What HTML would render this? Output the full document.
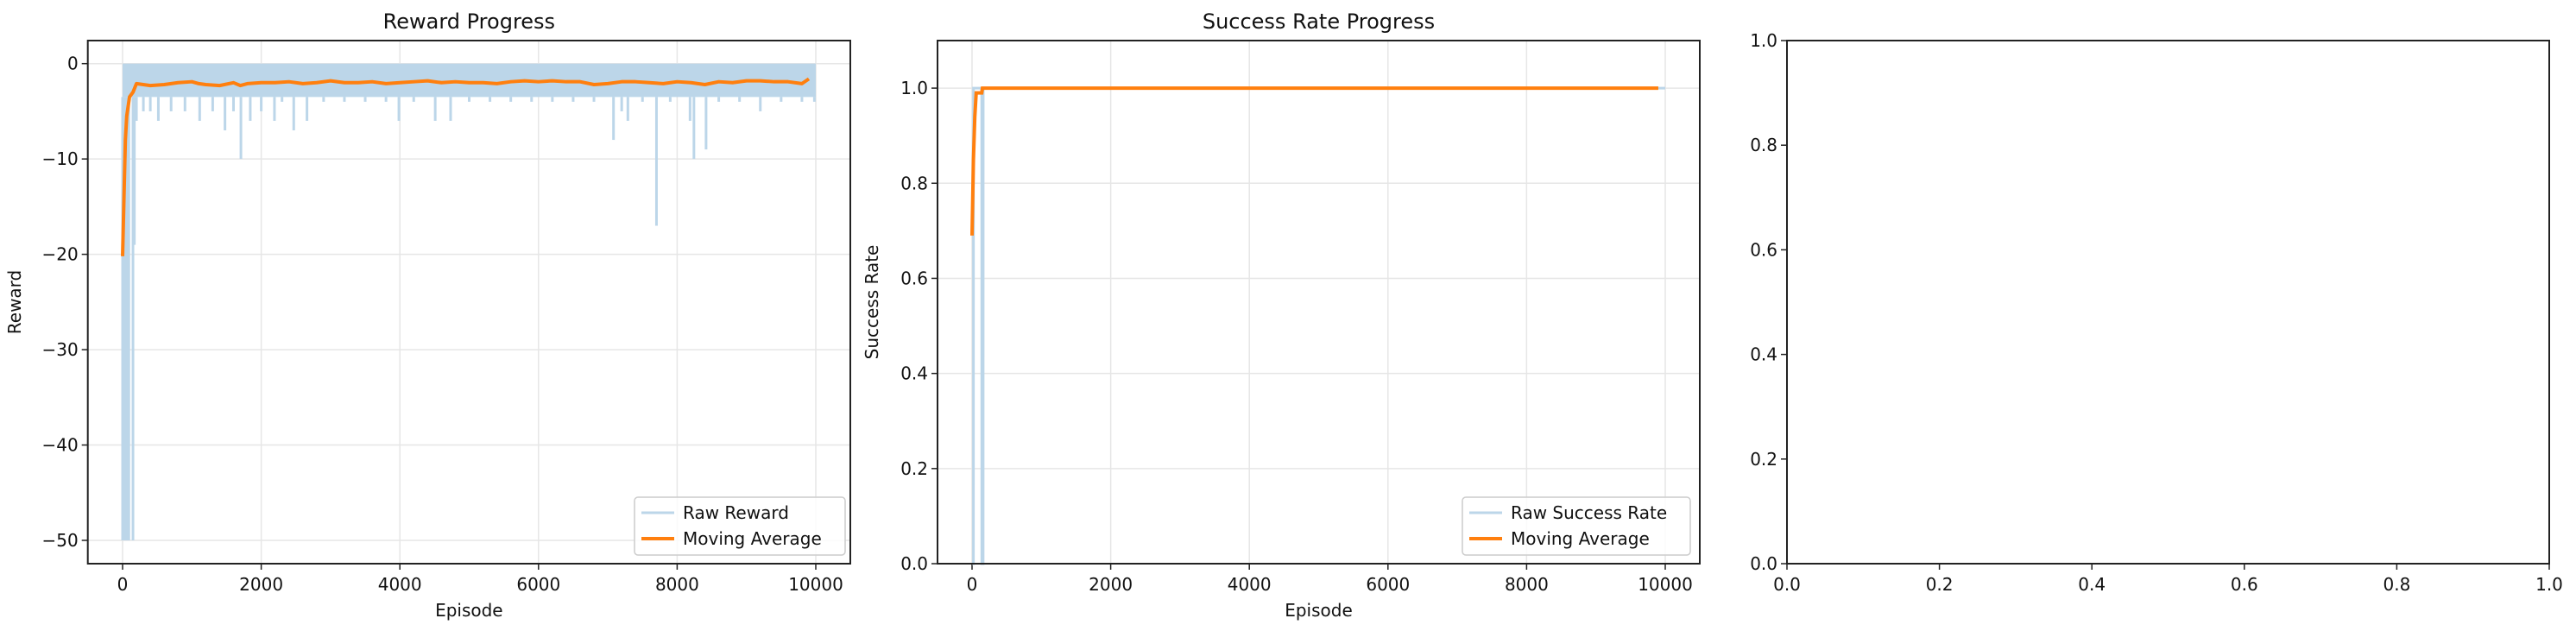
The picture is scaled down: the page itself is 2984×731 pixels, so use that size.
<!DOCTYPE html>
<html><head><meta charset="utf-8"><style>
body{margin:0;background:#fff}
svg{display:block;font-family:"DejaVu Sans","Liberation Sans",sans-serif}
</style></head><body>
<svg id="fig" width="2984" height="731" viewBox="0 0 2984 731"></svg>
<script>
// ---- data ----
const xTicks=[0,2000,4000,6000,8000,10000];
const rewardTicks=[0,-10,-20,-30,-40,-50];
const successTicks=[0,0.2,0.4,0.6,0.8,1.0];
const emptyTicks=[0,0.2,0.4,0.6,0.8,1.0];
const rawBandTop=0;
const rawBandLow=-3.5;
const rawSpikeEp=[0,30,60,90,150,170,200,300,400,516,700,900,1112,1300,1477,1600,1707,1842,2000,2191,2300,2469,2660,2900,3200,3500,3800,3986,4200,4510,4732,5000,5300,5600,5900,6200,6500,6800,7082,7200,7289,7500,7702,7900,8186,8242,8417,8600,8900,9200,9500,9800,9980];
const rawSpikeVal=[-50,-50,-50,-50,-50,-19,-6,-5,-5,-6,-5,-5,-6,-5,-7,-5,-10,-6,-5,-6,-4,-7,-6,-4,-4,-4,-4,-6,-4,-6,-6,-4,-4,-4,-4,-4,-4,-4,-8,-5,-6,-4,-17,-4,-6,-10,-9,-4,-4,-5,-4,-4,-4];
const rewardMaEp=[0,20,40,60,100,150,200,300,400,600,800,1000,1100,1200,1400,1600,1700,1800,2000,2200,2400,2600,2800,3000,3200,3400,3600,3800,4000,4200,4400,4600,4800,5000,5200,5400,5600,5800,6000,6200,6400,6600,6800,7000,7200,7400,7600,7800,8000,8200,8400,8600,8800,9000,9200,9400,9600,9800,9900];
const rewardMaVal=[-20.2,-14,-8,-5.5,-3.5,-3,-2.1,-2.2,-2.3,-2.2,-2.0,-1.9,-2.1,-2.2,-2.3,-2.0,-2.3,-2.1,-2.0,-2.0,-1.9,-2.1,-2.0,-1.8,-2.0,-2.0,-1.9,-2.1,-2.0,-1.9,-1.8,-2.0,-1.9,-2.0,-2.0,-2.1,-1.9,-1.8,-1.9,-1.8,-1.9,-1.9,-2.2,-2.1,-1.9,-1.9,-2.0,-2.1,-1.9,-2.0,-2.2,-1.9,-2.0,-1.8,-1.8,-1.9,-1.9,-2.1,-1.6];
const successRawEp=[0,20,21,140,141,160,161,10000];
const successRawVal=[0,0,1,1,0,0,1,1];
const successMaEp=[0,20,40,60,100,140,150,9900];
const successMaVal=[0.69,0.85,0.94,0.99,0.99,0.99,1.0,1.0];

const RAW='#bcd6e9';
const NS="http://www.w3.org/2000/svg",svg=document.getElementById('fig');
function el(t,a,p){const e=document.createElementNS(NS,t);for(const k in a)e.setAttribute(k,a[k]);(p||svg).appendChild(e);return e;}
function txt(s,a,p){const e=el('text',a,p);e.textContent=s;return e;}
function lin(d0,d1,r0,r1){return v=>r0+(v-d0)*(r1-r0)/(d1-d0);}
const T0=47,B0=653;

function axes(name,L,R,T,B,xs,ys,xt,yt,fmtX,fmtY,grid,title,xl,yl,ylx){
  const g=el('g',{});
  
  
  if(grid){
    xt.forEach(v=>{const l=el('line',{x1:xs(v),x2:xs(v),y1:T,y2:B,stroke:'#e6e6e6','stroke-width':1.5},g);});
    yt.forEach(v=>{const l=el('line',{x1:L,x2:R,y1:ys(v),y2:ys(v),stroke:'#e6e6e6','stroke-width':1.5},g);});
  }
  xt.forEach(v=>{el('line',{x1:xs(v),x2:xs(v),y1:B,y2:B+7,stroke:'#222','stroke-width':1.5},g);
    const t=txt(fmtX(v),{x:xs(v),y:684,'text-anchor':'middle','font-size':20,fill:'#111'},g);});
  yt.forEach(v=>{el('line',{x1:L-7,x2:L,y1:ys(v),y2:ys(v),stroke:'#222','stroke-width':1.5},g);
    const t=txt(fmtY(v),{x:L-11,y:ys(v)+7,'text-anchor':'end','font-size':20,fill:'#111'},g);});
  if(title){const t=txt(title,{x:(L+R)/2,y:33,'text-anchor':'middle','font-size':24,fill:'#111'},g);}
  if(xl){const t=txt(xl,{x:(L+R)/2,y:714,'text-anchor':'middle','font-size':20,fill:'#111'},g);}
  if(yl){const t=txt(yl,{x:ylx,y:(T+B)/2,'text-anchor':'middle','font-size':20,fill:'#111',transform:`rotate(-90 ${ylx} ${(T+B)/2})`},g);}
  return g;
}
function frame(L,R,T,B){const r=el('rect',{x:L,y:T,width:R-L,height:B-T,fill:'none',stroke:'#222','stroke-width':2});}
function legend(x,y,w,labels){
  const g=el('g',{});
  
  
  el('rect',{x:x,y:y,width:w,height:67,rx:4,fill:'#fff','fill-opacity':0.8,stroke:'#ccc','stroke-width':1.5},g);
  const a=el('line',{x1:x+8,x2:x+46,y1:y+18,y2:y+18,stroke:RAW,'stroke-width':3},g);
  
  const t1=txt(labels[0],{x:x+56,y:y+25,'font-size':20,fill:'#111'},g);
  const b=el('line',{x1:x+8,x2:x+46,y1:y+48,y2:y+48,stroke:'#ff7f0e','stroke-width':4},g);
  
  const t2=txt(labels[1],{x:x+56,y:y+55,'font-size':20,fill:'#111'},g);
}
const fmtInt=v=>v<0?'\u2212'+(-v):String(v);
const fmt1=v=>v.toFixed(1);

// ---- panel 1: reward ----
{const L=101.7,R=985,T=T0,B=B0;
 const xs=lin(0,10000,142,945), ys=lin(0,-50,73.7,626);
 axes('reward-axes',L,R,T,B,xs,ys,xTicks,rewardTicks,String,fmtInt,true,'Reward Progress','Episode','Reward',24);
 const band=el('rect',{x:xs(0),y:ys(rawBandTop),width:xs(10000)-xs(0),height:ys(rawBandLow)-ys(rawBandTop),fill:RAW});
 
 rawSpikeEp.forEach((e,i)=>{const l=el('line',{x1:xs(e),x2:xs(e),y1:ys(rawBandLow),y2:ys(rawSpikeVal[i]),stroke:RAW,'stroke-width':3});
   });
 const p=el('polyline',{points:rewardMaEp.map((e,i)=>xs(e)+','+ys(rewardMaVal[i])).join(' '),fill:'none',stroke:'#ff7f0e','stroke-width':4,'stroke-linejoin':'round'});
 
 frame(L,R,T,B);
 legend(735,576,244,['Raw Reward','Moving Average']);}

// ---- panel 2: success ----
{const L=1086,R=1969,T=T0,B=B0;
 const xs=lin(0,10000,1126,1929), ys=lin(0,1.1,B0,T0);
 axes('success-axes',L,R,T,B,xs,ys,xTicks,successTicks,String,fmt1,true,'Success Rate Progress','Episode','Success Rate',1017);
 const r=el('polyline',{points:successRawEp.map((e,i)=>xs(e)+','+ys(successRawVal[i])).join(' '),fill:'none',stroke:RAW,'stroke-width':3});
 
 const p=el('polyline',{points:successMaEp.map((e,i)=>xs(e)+','+ys(successMaVal[i])).join(' '),fill:'none',stroke:'#ff7f0e','stroke-width':4});
 
 frame(L,R,T,B);
 legend(1694,576,264,['Raw Success Rate','Moving Average']);}

// ---- panel 3: empty ----
{const L=2070,R=2953,T=T0,B=B0;
 const xs=lin(0,1,L,R), ys=lin(0,1,B,T);
 axes('empty-axes',L,R,T,B,xs,ys,emptyTicks,emptyTicks,fmt1,fmt1,false,'','','',0);
 frame(L,R,T,B);}
</script>
</body></html>
